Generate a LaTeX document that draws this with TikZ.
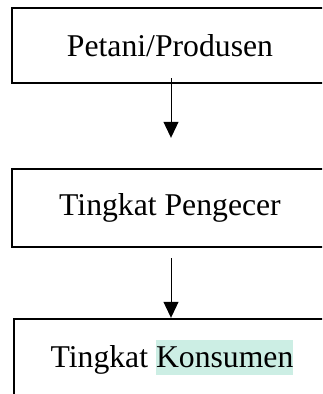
\documentclass[tikz,border=0pt]{standalone}
\usepackage{fontspec}
\setmainfont{Liberation Serif}
\usetikzlibrary{arrows.meta}
\definecolor{mark area}{HTML}{CCEEE4}
\def\pictureframe{(0,0) rectangle (322,-394)}
\tikzset{stage/.style={draw, line width=2.4pt, minimum width=316pt,
        font=\fontsize{31.7}{38}\selectfont, inner sep=0pt},
    flow/.style={line width=1pt, -{Triangle[width=15pt,length=16pt]}}}
\newcommand{\marked}[1]{{\setlength{\fboxsep}{0pt}\colorbox{mark area}{\rule[-7pt]{0pt}{35pt}#1}}}

\begin{document}
\begin{tikzpicture}[x=1pt, y=1pt]
    \useasboundingbox \pictureframe;
    \clip \pictureframe;
    \node[stage, minimum height=75pt] (petani) at (170,-45.5) {Petani/Produsen};
    \node[stage, minimum height=78pt] (pengecer) at (170,-208) {Tingkat Pengecer};
    \node[stage, minimum height=76pt] (konsumen) at (172,-357)
        {\rule[-7pt]{0pt}{35pt}Tingkat \marked{Konsumen}};
    \draw[flow] ([xshift=1pt, yshift=6pt]petani.south) -- ([xshift=1pt, yshift=30pt]pengecer.north);
    \draw[flow] ([xshift=1pt, yshift=-10pt]pengecer.south) -- ([xshift=-1pt]konsumen.north);
\end{tikzpicture}
\end{document}
